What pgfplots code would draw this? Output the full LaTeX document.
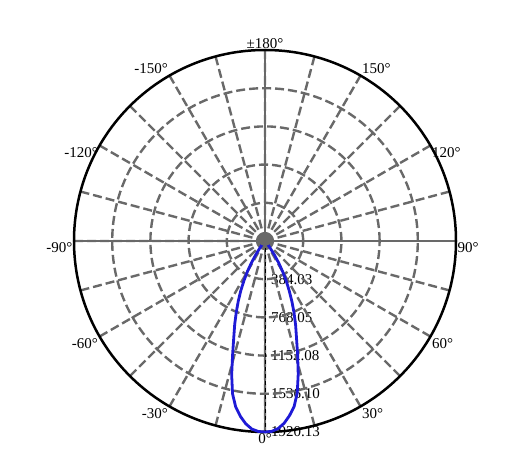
\documentclass[border=0pt]{standalone}
\usepackage{fontspec}
\setmainfont{Liberation Serif}
\usepackage{pgfplots}
\pgfplotsset{compat=1.18}
\usepgfplotslibrary{polar}

\definecolor{gridgray}{RGB}{105,105,105}
\definecolor{curveblue}{RGB}{30,26,214}

% luminous intensity (cd) against angle; polar angle = 270 + gamma
\pgfplotstableread{
ang  cd
214  0
220  0
226  5
230  18
232  45
234  95
236  165
238  255
240  350
242  450
244  555
246  660
248  770
250  890
252  1015
254  1180
256  1385
258  1570
260  1695
262  1780
264  1848
266  1895
268  1916
270  1920
272  1915
274  1890
276  1842
278  1772
280  1688
282  1560
284  1380
286  1190
288  1025
290  900
292  780
294  665
296  555
298  455
300  355
302  260
304  170
306  98
308  46
310  18
314  5
320  0
}\lumdata

\begin{document}
\begin{tikzpicture}
\begin{polaraxis}[
    set layers,
    scale only axis,
    width=382bp, height=382bp,
    xmin=0, xmax=360,
    ymin=0, ymax=1920.13,
    xtick={0,90,180,270},
    minor xtick={15,30,...,345},
    ytick={384.03,768.05,1152.08,1536.10},
    xticklabels={}, yticklabels={},
    major tick length=0pt, minor tick length=0pt,
    grid=both,
    major x grid style={gridgray, line width=2.4bp},
    minor x grid style={gridgray, line width=2.4bp, dash pattern=on 9bp off 4bp},
    major y grid style={gridgray, line width=2.4bp, dash pattern=on 9bp off 4bp},
    x axis line style={black, line width=2.5bp},
    y axis line style={draw=none},
    clip=false,
    font=\fontsize{15bp}{18bp}\selectfont,
]
\addplot[black, line width=0.7bp, dash pattern=on 4bp off 3bp] coordinates {(270,0) (270,1920.13)};
\addplot[gridgray, only marks, mark=*, mark size=5bp] coordinates {(0,0)};
\addplot[curveblue, line width=2.8bp] table[x=ang, y=cd] {\lumdata};

\coordinate (c) at (axis cs:0,0);

% angle labels
\node[anchor=north west, inner sep=1.5bp] at (axis cs:0,1920.13) {90°};
\node[anchor=north west, inner sep=1.5bp] at (axis cs:30,1920.13) {120°};
\node[anchor=south west, inner sep=1.5bp] at (axis cs:60,1920.13) {150°};
\node[anchor=south, inner sep=1.5bp] at (axis cs:90,1920.13) {±180°};
\node[anchor=south east, inner sep=1.5bp] at (axis cs:120,1920.13) {-150°};
\node[anchor=north east, inner sep=1.5bp] at (axis cs:150,1920.13) {-120°};
\node[anchor=north east, inner sep=1.5bp] at (axis cs:180,1920.13) {-90°};
\node[anchor=north east, inner sep=1.5bp] at (axis cs:210,1920.13) {-60°};
\node[anchor=north east, inner sep=1.5bp] at (axis cs:240,1920.13) {-30°};
\node[anchor=north, inner sep=1.5bp] at (axis cs:270,1920.13) {0°};
\node[anchor=north west, inner sep=1.5bp] at (axis cs:300,1920.13) {30°};
\node[anchor=north west, inner sep=1.5bp] at (axis cs:330,1920.13) {60°};

% radial labels beneath the grid
\begin{pgfonlayer}{axis background}
\node[anchor=west, inner sep=1bp, xshift=5bp] at (axis cs:270,384.03) {384.03};
\node[anchor=west, inner sep=1bp, xshift=5bp] at (axis cs:270,768.05) {768.05};
\node[anchor=west, inner sep=1bp, xshift=5bp] at (axis cs:270,1152.08) {1152.08};
\node[anchor=west, inner sep=1bp, xshift=5bp] at (axis cs:270,1536.10) {1536.10};
\node[anchor=west, inner sep=1bp, xshift=5bp] at (axis cs:270,1920.13) {1920.13};
\end{pgfonlayer}
\end{polaraxis}
\pgfresetboundingbox
\path[use as bounding box] ([shift={(-265bp,241bp)}]c) rectangle ([shift={(252bp,-230bp)}]c);
\end{tikzpicture}
\end{document}
